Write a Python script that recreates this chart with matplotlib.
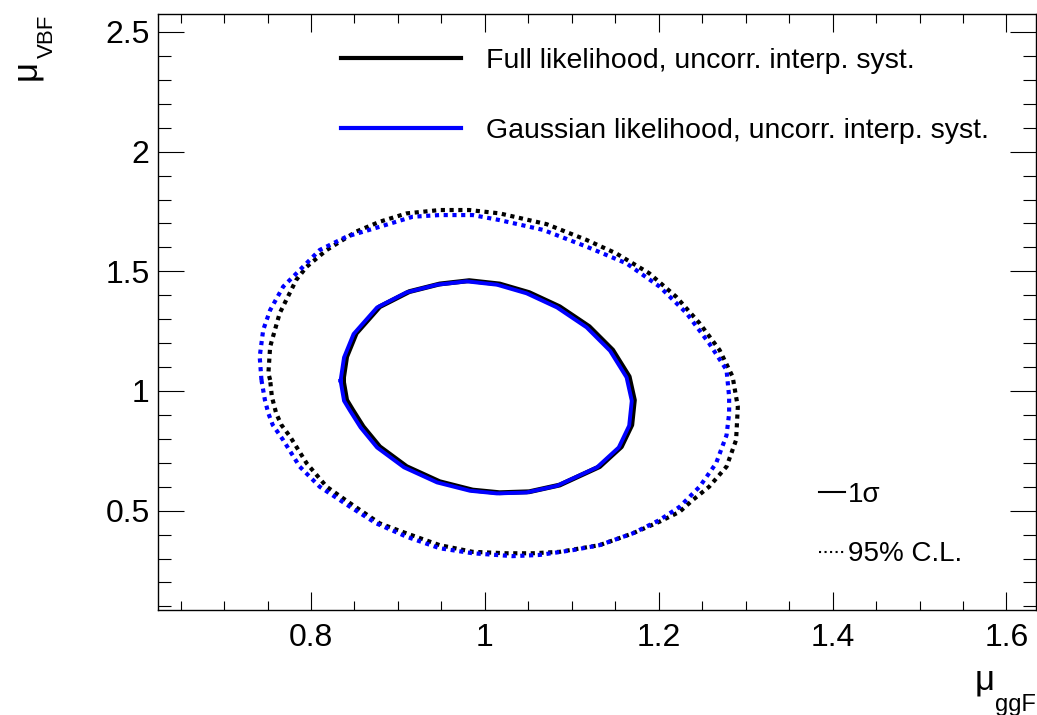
import matplotlib
matplotlib.use("Agg")
import matplotlib.pyplot as plt
from matplotlib.lines import Line2D
from matplotlib.ticker import MultipleLocator, FuncFormatter

plt.rcParams['font.family'] = ['Liberation Sans', 'DejaVu Sans']

# 1 sigma contours
inner_full_x = [0.837, 0.841, 0.852, 0.879, 0.913, 0.948, 0.982, 1.017, 1.051, 1.086, 1.120, 1.147, 1.166, 1.172,
                1.169, 1.157, 1.132, 1.086, 1.051, 1.017, 0.986, 0.948, 0.910, 0.879, 0.860, 0.848, 0.841, 0.837]
inner_full_y = [1.046, 1.143, 1.241, 1.352, 1.415, 1.447, 1.461, 1.447, 1.411, 1.352, 1.269, 1.171, 1.060, 0.962,
                0.858, 0.767, 0.684, 0.607, 0.579, 0.575, 0.586, 0.621, 0.684, 0.767, 0.851, 0.920, 0.962, 1.046]
inner_gaus_x = [0.834, 0.838, 0.849, 0.876, 0.910, 0.945, 0.979, 1.014, 1.048, 1.083, 1.117, 1.144, 1.163, 1.169,
                1.166, 1.154, 1.129, 1.083, 1.048, 1.014, 0.983, 0.945, 0.907, 0.876, 0.857, 0.845, 0.838, 0.834]
inner_gaus_y = [1.043, 1.140, 1.238, 1.349, 1.412, 1.444, 1.458, 1.444, 1.408, 1.349, 1.266, 1.168, 1.057, 0.959,
                0.855, 0.764, 0.681, 0.604, 0.576, 0.572, 0.583, 0.618, 0.681, 0.764, 0.848, 0.917, 0.959, 1.043]

# 95% CL contours
outer_full_x = [0.753, 0.751, 0.753, 0.764, 0.783, 0.795, 0.818, 0.852, 0.879, 0.910, 0.948, 0.982, 1.017, 1.071,
                1.117, 1.151, 1.189, 1.220, 1.247, 1.270, 1.285, 1.291, 1.289, 1.278, 1.258, 1.239, 1.224, 1.201,
                1.170, 1.132, 1.086, 1.055, 1.025, 0.986, 0.948, 0.910, 0.879, 0.845, 0.818, 0.795, 0.776, 0.766,
                0.760, 0.755, 0.753]
outer_full_y = [1.046, 1.074, 1.185, 1.325, 1.464, 1.519, 1.589, 1.666, 1.707, 1.742, 1.756, 1.756, 1.742, 1.697,
                1.631, 1.575, 1.492, 1.394, 1.283, 1.171, 1.060, 0.934, 0.795, 0.684, 0.600, 0.544, 0.495, 0.454,
                0.405, 0.356, 0.328, 0.322, 0.322, 0.328, 0.356, 0.405, 0.447, 0.531, 0.600, 0.698, 0.809, 0.858,
                0.906, 0.976, 1.046]
outer_gaus_x = [0.743, 0.741, 0.745, 0.753, 0.768, 0.787, 0.810, 0.841, 0.879, 0.917, 0.948, 0.986, 1.017, 1.067,
                1.117, 1.163, 1.201, 1.232, 1.258, 1.278, 1.281, 1.281, 1.278, 1.266, 1.247, 1.224, 1.201, 1.170,
                1.132, 1.101, 1.063, 1.032, 0.986, 0.948, 0.910, 0.875, 0.845, 0.810, 0.787, 0.768, 0.756, 0.751,
                0.747, 0.743]
outer_gaus_y = [1.046, 1.143, 1.255, 1.338, 1.436, 1.505, 1.589, 1.645, 1.686, 1.728, 1.735, 1.735, 1.714, 1.673,
                1.603, 1.533, 1.436, 1.325, 1.199, 1.088, 0.976, 0.906, 0.815, 0.698, 0.600, 0.516, 0.461, 0.405,
                0.356, 0.335, 0.315, 0.310, 0.322, 0.343, 0.391, 0.447, 0.516, 0.600, 0.684, 0.795, 0.858, 0.906,
                0.962, 1.046]

labels = ["Full likelihood, uncorr. interp. syst.", "Gaussian likelihood, uncorr. interp. syst."]
colors = ["black", "blue"]

W, H = 1037, 715
fig = plt.figure(figsize=(W / 100, H / 100), dpi=100)
ax = fig.add_axes([158 / W, 1 - 610 / H, (1036 - 158) / W, (610 - 14) / H])

ax.plot(outer_full_x, outer_full_y, color=colors[0], lw=3, dashes=(1, 1.1), dash_capstyle='butt')
ax.plot(outer_gaus_x, outer_gaus_y, color=colors[1], lw=3, dashes=(1, 1.1), dash_capstyle='butt')
ax.plot(inner_full_x, inner_full_y, color=colors[0], lw=3.5)
ax.plot(inner_gaus_x, inner_gaus_y, color=colors[1], lw=2.8)

ax.set_xlim(0.624, 1.634)
ax.set_ylim(0.085, 2.575)
ax.xaxis.set_major_locator(MultipleLocator(0.2))
ax.xaxis.set_minor_locator(MultipleLocator(0.05))
ax.yaxis.set_major_locator(MultipleLocator(0.5))
ax.yaxis.set_minor_locator(MultipleLocator(0.1))
fmt = FuncFormatter(lambda v, p: "%g" % round(v, 3))
ax.xaxis.set_major_formatter(fmt)
ax.yaxis.set_major_formatter(fmt)
ax.tick_params(which='both', direction='in', top=True, right=True, width=0.8, labelsize=23)
ax.tick_params(axis='x', which='major', length=13, pad=9)
ax.tick_params(axis='x', which='minor', length=6.5)
ax.tick_params(axis='y', which='major', length=18.7, pad=6)
ax.tick_params(axis='y', which='minor', length=9.4)
for s in ax.spines.values():
    s.set_linewidth(1.0)

h1 = [Line2D([], [], color=c, lw=3) for c in colors]
leg1 = ax.legend(h1, labels, loc='upper left', bbox_to_anchor=(341 / W, 1 - 48 / H),
                 bbox_transform=fig.transFigure, frameon=False, fontsize=20.5,
                 handlelength=4.2, handletextpad=0.9, labelspacing=1.55, borderpad=0, borderaxespad=0)
ax.add_artist(leg1)

h2 = [Line2D([], [], color='black', lw=1.5), Line2D([], [], color='black', lw=1.5, ls=':')]
ax.legend(h2, ["1σ", "95% C.L."], loc='upper left', bbox_to_anchor=(819 / W, 1 - 482 / H),
          bbox_transform=fig.transFigure, frameon=False, fontsize=20,
          handlelength=0.95, handletextpad=0.1, labelspacing=1.2, borderpad=0, borderaxespad=0)

# axis titles
fig.text(975 / W, 1 - 690 / H, "μ", fontsize=25, ha='left', va='baseline')
fig.text(995 / W, 1 - 711 / H, "ggF", fontsize=17, ha='left', va='baseline')
fig.text(35 / W, 1 - 80 / H, "μ", fontsize=25, rotation=90, rotation_mode='anchor', ha='left', va='baseline')
fig.text(53 / W, 1 - 58 / H, "VBF", fontsize=16, rotation=90, rotation_mode='anchor', ha='left', va='baseline')

fig.savefig("out.png", dpi=100)
